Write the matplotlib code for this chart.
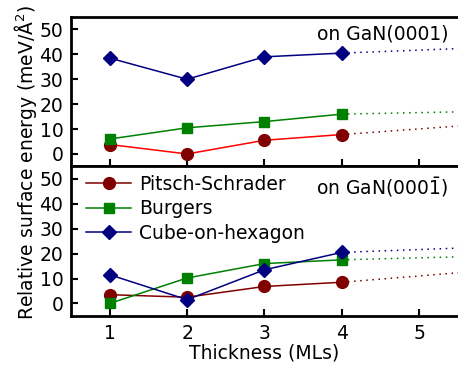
import matplotlib
matplotlib.use("Agg")
import matplotlib.pyplot as plt

# thickness in monolayers
thick = [1, 2, 3, 4]
x_tail = [4, 5.5]

# on GaN(0001)
ps_top = [3.8, 0.0, 5.5, 7.8]
bu_top = [6.0, 10.5, 13.0, 16.0]
cu_top = [38.5, 30.0, 39.0, 40.5]
ps_top_tail = [7.8, 11.2]
bu_top_tail = [16.0, 16.9]
cu_top_tail = [40.5, 42.3]

# on GaN(000-1)
ps_bot = [3.5, 2.5, 6.8, 8.5]
bu_bot = [0.0, 10.2, 16.0, 17.5]
cu_bot = [11.5, 1.5, 13.5, 20.5]
ps_bot_tail = [8.5, 12.3]
bu_bot_tail = [17.5, 18.7]
cu_bot_tail = [20.5, 22.2]

labels = ["Pitsch-Schrader", "Burgers", "Cube-on-hexagon"]

dred = "#800000"
green = "#008000"
navy = "#000080"

plt.rcParams['font.family'] = 'DejaVu Sans'
plt.rcParams['font.size'] = 13.5

fig, (ax1, ax2) = plt.subplots(2, 1, sharex=True, figsize=(4.58, 3.69), dpi=100)
fig.subplots_adjust(left=0.155, right=1.0, top=0.954, bottom=0.144, hspace=0)

dots = (0, (1, 3))

# top panel
ax1.plot(thick, ps_top, color="red", lw=1.1, marker="o", ms=8.5, mfc=dred, mec=dred)
ax1.plot(thick, bu_top, color=green, lw=1.1, marker="s", ms=7)
ax1.plot(thick, cu_top, color=navy, lw=1.1, marker="D", ms=7)
ax1.plot(x_tail, ps_top_tail, color=dred, lw=1.1, ls=dots)
ax1.plot(x_tail, bu_top_tail, color=green, lw=1.1, ls=dots)
ax1.plot(x_tail, cu_top_tail, color=navy, lw=1.1, ls=dots)
ax1.text(0.975, 0.95, "on GaN(0001)", transform=ax1.transAxes, ha="right", va="top")

# bottom panel
ax2.plot(thick, ps_bot, color=dred, lw=1.1, marker="o", ms=8.5, label=labels[0])
ax2.plot(thick, bu_bot, color=green, lw=1.1, marker="s", ms=7, label=labels[1])
ax2.plot(thick, cu_bot, color=navy, lw=1.1, marker="D", ms=7, label=labels[2])
ax2.plot(x_tail, ps_bot_tail, color=dred, lw=1.1, ls=dots)
ax2.plot(x_tail, bu_bot_tail, color=green, lw=1.1, ls=dots)
ax2.plot(x_tail, cu_bot_tail, color=navy, lw=1.1, ls=dots)
ax2.text(0.975, 0.94, r"on GaN(000$\bar{1}$)", transform=ax2.transAxes, ha="right", va="top")
ax2.legend(loc="upper left", bbox_to_anchor=(0.03, 0.97), frameon=False,
           borderaxespad=0.0, handlelength=2.4, labelspacing=0.3,
           handletextpad=0.4, borderpad=0.2)

for ax in (ax1, ax2):
    ax.set_xlim(0.5, 5.5)
    ax.set_ylim(-5, 55)
    ax.set_yticks([0, 10, 20, 30, 40, 50])
    ax.spines["right"].set_visible(False)
    ax.tick_params(axis="x", direction="in", length=5, width=1.5, pad=6)
    ax.tick_params(axis="y", direction="in", length=5, width=1.5, pad=5.5)
    for s in ax.spines.values():
        s.set_linewidth(2)

ax2.set_xticks([1, 2, 3, 4, 5])
ax2.set_xlabel("Thickness (MLs)", labelpad=0)
fig.text(0.055, 0.56, "Relative surface energy (meV/Å$^2$)", rotation=90,
         ha="center", va="center")

plt.savefig("out.png")
